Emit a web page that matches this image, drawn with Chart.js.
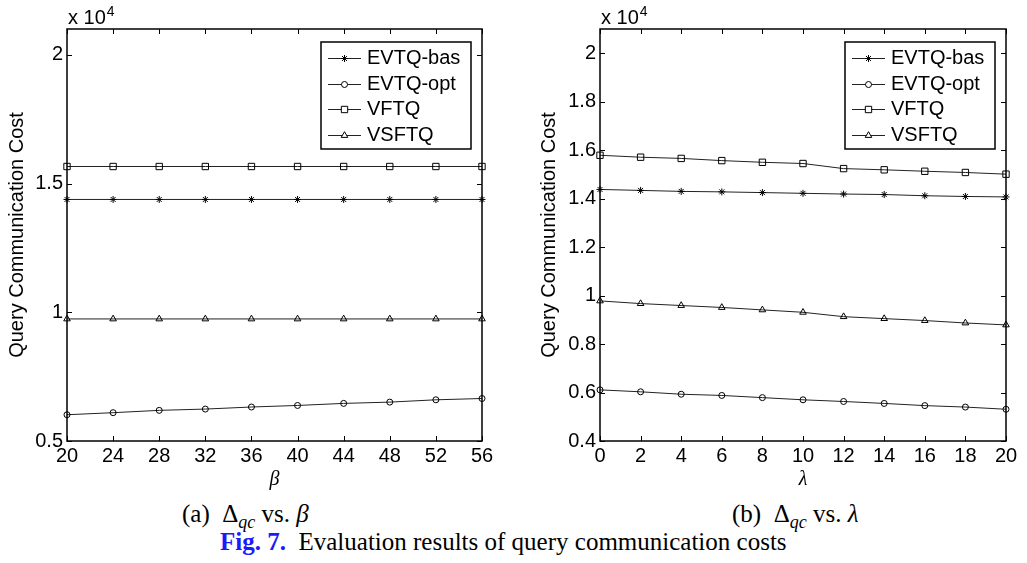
<!DOCTYPE html>
<html>
<head>
<meta charset="utf-8">
<script src="https://cdn.jsdelivr.net/npm/chart.js@4.4.1/dist/chart.umd.min.js"></script>
<style>
  body { margin: 0; background: #fff; width: 1027px; height: 563px; overflow: hidden; position: relative; }
  .box { position: absolute; top: 0; height: 495px; }
  #boxA { left: 0; width: 500px; }
  #boxB { left: 530px; width: 497px; }
  .cap { position: absolute; font-family: "Liberation Serif", "Times New Roman", serif; font-size: 25px; line-height: 25px; white-space: pre; color: #000; }
  .cap sub { font-size: 18px; font-style: italic; vertical-align: -6px; line-height: 0; }
  .fig { color: #1a1aff; font-weight: bold; }
</style>
</head>
<body>
<div class="box" id="boxA"><canvas id="chartA" width="500" height="495"></canvas></div>
<div class="box" id="boxB"><canvas id="chartB" width="497" height="495"></canvas></div>
<div class="cap" style="left:182px; top:501px;">(a)  Δ<sub>qc</sub> vs. <i>β</i></div>
<div class="cap" style="left:732px; top:501px;">(b)  Δ<sub>qc</sub> vs. <i>λ</i></div>
<div class="cap" style="left:220px; top:529px;"><span class="fig">Fig. 7.</span>  Evaluation results of query communication costs</div>
<script>
const seriesNames = ['EVTQ-bas', 'EVTQ-opt', 'VFTQ', 'VSFTQ'];
const markerStyles = ['star', 'circle', 'rect', 'triangle'];
const markerSizes = [3.5, 3, 4.5, 3.8];

// (a) vs beta, values in units of 10^4
const betaLabels = [20, 24, 28, 32, 36, 40, 44, 48, 52, 56];
const basBeta = [1.438, 1.438, 1.438, 1.438, 1.438, 1.438, 1.438, 1.438, 1.438, 1.438];
const optBeta = [0.602, 0.610, 0.619, 0.624, 0.632, 0.638, 0.646, 0.651, 0.660, 0.665];
const vftqBeta = [1.566, 1.566, 1.566, 1.566, 1.566, 1.566, 1.566, 1.566, 1.566, 1.566];
const vsftqBeta = [0.974, 0.974, 0.974, 0.974, 0.974, 0.974, 0.974, 0.974, 0.974, 0.974];

// (b) vs lambda
const lambdaLabels = [0, 2, 4, 6, 8, 10, 12, 14, 16, 18, 20];
const basLambda = [1.438, 1.434, 1.430, 1.428, 1.425, 1.422, 1.419, 1.417, 1.412, 1.409, 1.407];
const optLambda = [0.611, 0.603, 0.593, 0.588, 0.579, 0.570, 0.563, 0.555, 0.546, 0.540, 0.531];
const vftqLambda = [1.579, 1.571, 1.566, 1.557, 1.550, 1.545, 1.524, 1.519, 1.513, 1.508, 1.501];
const vsftqLambda = [0.978, 0.967, 0.959, 0.951, 0.941, 0.931, 0.913, 0.905, 0.897, 0.887, 0.879];

const sansFont = 'Arial, "Liberation Sans", sans-serif';

// box around the plot, inward tick marks, legend and the x 10^4 note
const framePlugin = {
  id: 'frame',
  afterDraw(chart) {
    const { ctx, chartArea: a, scales: { x, y } } = chart;
    ctx.save();
    ctx.strokeStyle = '#000';
    ctx.lineWidth = 1;
    ctx.beginPath();
    x.ticks.forEach((t, i) => {
      const px = Math.round(x.getPixelForTick(i)) + 0.5;
      ctx.moveTo(px, a.bottom); ctx.lineTo(px, a.bottom - 5);
      ctx.moveTo(px, a.top); ctx.lineTo(px, a.top + 5);
    });
    y.ticks.forEach((t, i) => {
      const py = Math.round(y.getPixelForTick(i)) + 0.5;
      ctx.moveTo(a.left, py); ctx.lineTo(a.left + 5, py);
      ctx.moveTo(a.right, py); ctx.lineTo(a.right - 5, py);
    });
    ctx.stroke();
    ctx.lineWidth = 1.5;
    ctx.strokeRect(a.left, a.top, a.right - a.left, a.bottom - a.top);

    // exponent
    ctx.fillStyle = '#000';
    ctx.textBaseline = 'alphabetic';
    ctx.textAlign = 'left';
    ctx.font = '20px ' + sansFont;
    ctx.fillText('x 10', a.left + 1, 24);
    const w = ctx.measureText('x 10').width;
    ctx.font = '14px ' + sansFont;
    ctx.fillText('4', a.left + 1 + w + 1, 16);

    // legend
    const bw = 150, bh = 107;
    const bx = a.right - 11 - bw, by = a.top + 13;
    ctx.fillStyle = '#fff';
    ctx.fillRect(bx, by, bw, bh);
    ctx.lineWidth = 1.5;
    ctx.strokeRect(bx, by, bw, bh);
    ctx.font = '20px ' + sansFont;
    ctx.textBaseline = 'middle';
    chart.data.datasets.forEach((ds, i) => {
      const ry = Math.round(by + 16 + i * 25.5) + 0.5;
      ctx.strokeStyle = '#222';
      ctx.lineWidth = 1;
      ctx.beginPath();
      ctx.moveTo(bx + 7, ry);
      ctx.lineTo(bx + 40, ry);
      ctx.stroke();
      if (Chart.helpers && Chart.helpers.drawPoint) {
        ctx.strokeStyle = '#000';
        ctx.fillStyle = '#fff';
        Chart.helpers.drawPoint(ctx, { pointStyle: ds.pointStyle, radius: ds.pointRadius, rotation: 0, borderWidth: 1 }, bx + 23.5, ry);
      }
      ctx.fillStyle = '#000';
      ctx.fillText(ds.label, bx + 46, ry);
    });
    ctx.restore();
  }
};

function makeDatasets(series) {
  return series.map((vals, i) => ({
    label: seriesNames[i],
    data: vals,
    borderColor: '#222',
    borderWidth: 1,
    pointStyle: markerStyles[i],
    pointRadius: markerSizes[i],
    pointBorderColor: '#000',
    pointBackgroundColor: 'rgba(0,0,0,0)',
    pointBorderWidth: 1,
    tension: 0,
    clip: false
  }));
}

function makeChart(id, labels, series, yMin, yStep, yWidth, titlePad, rightPad, xTitle) {
  return new Chart(document.getElementById(id), {
    type: 'line',
    data: { labels, datasets: makeDatasets(series) },
    options: {
      responsive: false,
      animation: false,
      layout: { padding: { top: 29, right: rightPad, left: 0, bottom: 0 } },
      plugins: { legend: { display: false }, tooltip: { enabled: false } },
      scales: {
        x: {
          offset: false,
          grid: { display: false, drawTicks: false },
          border: { display: false },
          ticks: { color: '#000', font: { family: sansFont, size: 20 }, padding: 3, autoSkip: false, maxRotation: 0 },
          title: { display: true, text: xTitle, color: '#000', font: { family: '"Liberation Serif", "Times New Roman", serif', size: 20, style: 'italic' }, padding: { top: 0, bottom: 3 } },
          afterFit(scale) { scale.height = 54; }
        },
        y: {
          min: yMin,
          max: 2.1,
          grid: { display: false, drawTicks: false },
          border: { display: false },
          ticks: {
            stepSize: yStep,
            includeBounds: false,
            color: '#000',
            font: { family: sansFont, size: 20 },
            padding: 4,
            callback: v => String(Math.round(v * 10) / 10)
          },
          title: { display: true, text: 'Query Communication Cost', color: '#000', font: { family: sansFont, size: 20 }, padding: { top: titlePad, bottom: 0 } },
          afterFit(scale) { scale.width = yWidth; }
        }
      }
    },
    plugins: [framePlugin]
  });
}

makeChart('chartA', betaLabels, [basBeta, optBeta, vftqBeta, vsftqBeta], 0.5, 0.5, 67, 5, 18, 'β');
makeChart('chartB', lambdaLabels, [basLambda, optLambda, vftqLambda, vsftqLambda], 0.4, 0.2, 70, 7, 21, 'λ');
</script>
</body>
</html>
